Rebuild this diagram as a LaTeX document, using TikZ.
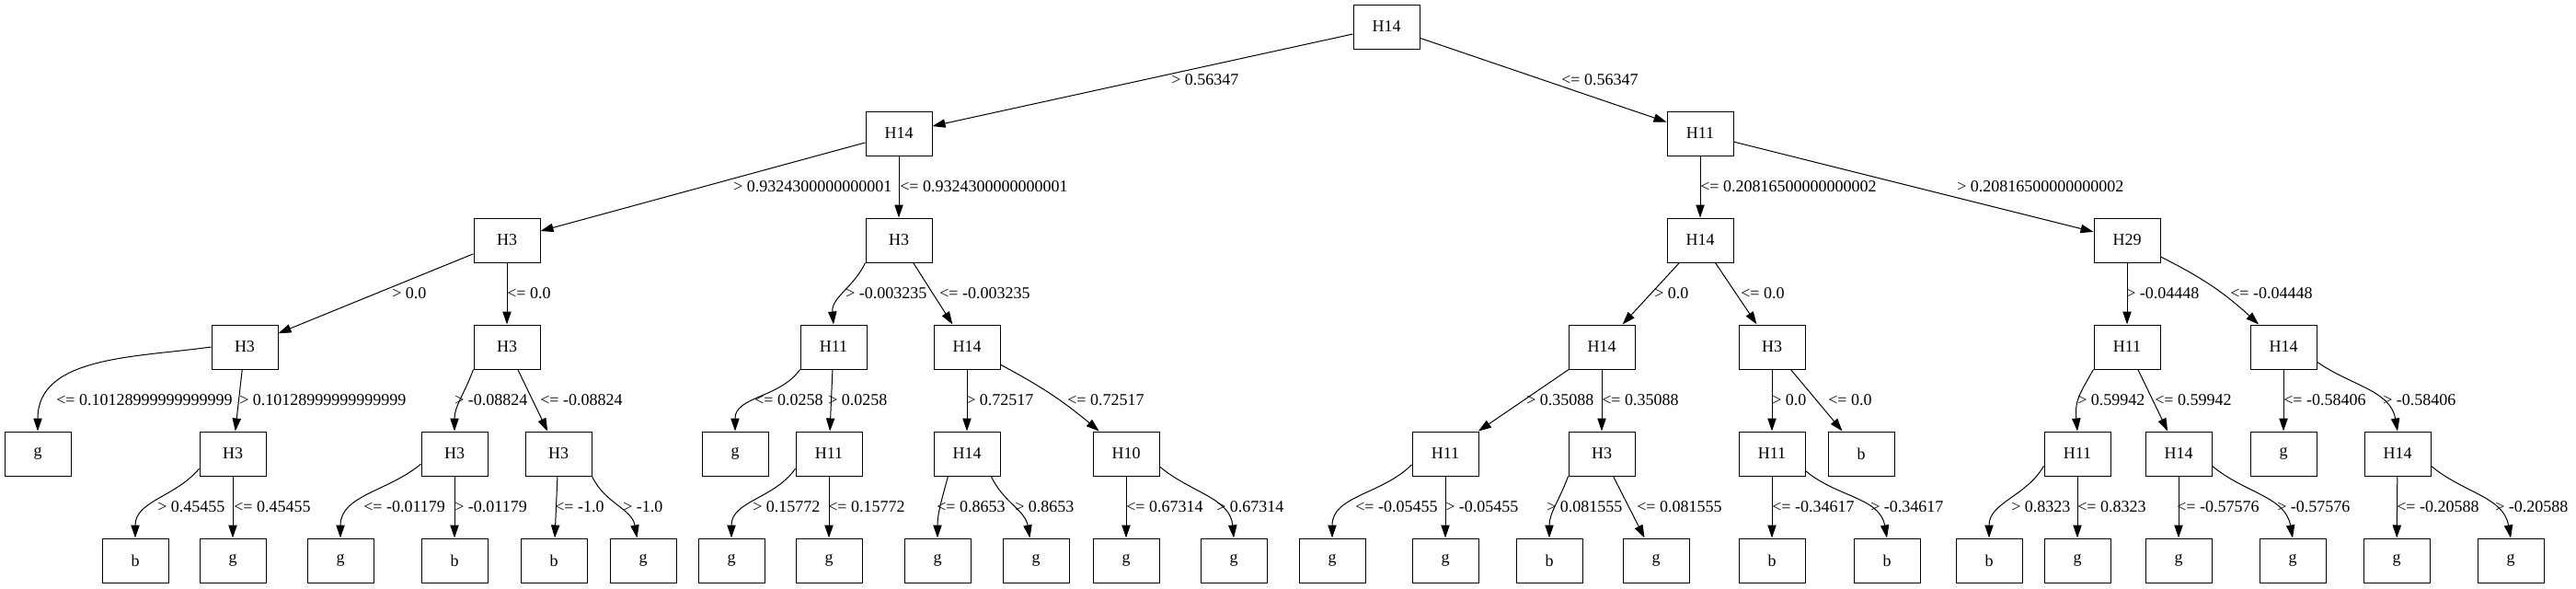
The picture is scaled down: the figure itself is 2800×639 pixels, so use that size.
\documentclass[tikz,border=0pt]{standalone}
\usepackage{fontspec}
\setmainfont{Liberation Serif}
\usetikzlibrary{arrows.meta}

\begin{document}
\begin{tikzpicture}[x=0.75pt, y=0.75pt,
  tnode/.style={draw, line width=0.75pt, minimum width=54pt, minimum height=36pt, inner sep=0pt, font=\fontsize{13.5}{16}\selectfont},
  edge/.style={line width=0.75pt, -{Triangle[length=10.5pt,width=7pt]}},
  cond/.style={anchor=west, inner sep=0pt, font=\fontsize{13.5}{16}\selectfont}]
  \useasboundingbox (0,0) rectangle (2800,-639);
  \node[tnode] (r) at (1507,-29) {H14};
  \node[tnode] (rL) at (977,-145) {H14};
  \node[tnode] (rR) at (1848,-145) {H11};
  \node[tnode] (rLL) at (551,-261) {H3};
  \node[tnode] (rLR) at (977,-261) {H3};
  \node[tnode] (rRL) at (1848,-261) {H14};
  \node[tnode] (rRR) at (2312,-261) {H29};
  \node[tnode] (rLLL) at (266,-377) {H3};
  \node[tnode] (rLLR) at (551,-377) {H3};
  \node[tnode] (rLRL) at (906,-377) {H11};
  \node[tnode] (rLRR) at (1051,-377) {H14};
  \node[tnode] (rRLL) at (1741,-377) {H14};
  \node[tnode] (rRLR) at (1926,-377) {H3};
  \node[tnode] (rRRL) at (2312,-377) {H11};
  \node[tnode] (rRRR) at (2482,-377) {H14};
  \node[tnode] (rLLLL) at (41,-493) {g};
  \node[tnode] (rLLLR) at (253,-493) {H3};
  \node[tnode] (rLLRL) at (494,-493) {H3};
  \node[tnode] (rLLRR) at (607,-493) {H3};
  \node[tnode] (rLRLL) at (799,-493) {g};
  \node[tnode] (rLRLR) at (901,-493) {H11};
  \node[tnode] (rLRRL) at (1051,-493) {H14};
  \node[tnode] (rLRRR) at (1224,-493) {H10};
  \node[tnode] (rRLLL) at (1571,-493) {H11};
  \node[tnode] (rRLLR) at (1741,-493) {H3};
  \node[tnode] (rRLRL) at (1926,-493) {H11};
  \node[tnode] (rRLRR) at (2023,-493) {b};
  \node[tnode] (rRRLL) at (2258,-493) {H11};
  \node[tnode] (rRRLR) at (2368,-493) {H14};
  \node[tnode] (rRRRL) at (2482,-493) {g};
  \node[tnode] (rRRRR) at (2606,-493) {H14};
  \node[tnode] (rLLLRL) at (147,-609) {b};
  \node[tnode] (rLLLRR) at (253,-609) {g};
  \node[tnode] (rLLRLL) at (370,-609) {g};
  \node[tnode] (rLLRLR) at (494,-609) {b};
  \node[tnode] (rLLRRL) at (602,-609) {b};
  \node[tnode] (rLLRRR) at (699,-609) {g};
  \node[tnode] (rLRLRL) at (795,-609) {g};
  \node[tnode] (rLRLRR) at (901,-609) {g};
  \node[tnode] (rLRRLL) at (1019,-609) {g};
  \node[tnode] (rLRRLR) at (1126,-609) {g};
  \node[tnode] (rLRRRL) at (1224,-609) {g};
  \node[tnode] (rLRRRR) at (1341,-609) {g};
  \node[tnode] (rRLLLL) at (1448,-609) {g};
  \node[tnode] (rRLLLR) at (1571,-609) {g};
  \node[tnode] (rRLLRL) at (1684,-609) {b};
  \node[tnode] (rRLLRR) at (1800,-609) {g};
  \node[tnode] (rRLRLL) at (1926,-609) {b};
  \node[tnode] (rRLRLR) at (2051,-609) {b};
  \node[tnode] (rRRLLL) at (2162,-609) {b};
  \node[tnode] (rRRLLR) at (2258,-609) {g};
  \node[tnode] (rRRLRL) at (2368,-609) {g};
  \node[tnode] (rRRLRR) at (2492,-609) {g};
  \node[tnode] (rRRRRL) at (2605,-609) {g};
  \node[tnode] (rRRRRR) at (2729,-609) {g};

  \draw[edge] (r) -- (rL);
  \draw[edge] (r) -- (rR);
  \draw[edge] (rL) -- (rLL);
  \draw[edge] (rL) -- (rLR);
  \draw[edge] (rR) -- (rRL);
  \draw[edge] (rR) -- (rRR);
  \draw[edge] (rLL) -- (rLLL);
  \draw[edge] (rLL) -- (rLLR);
  \draw[edge] (rLR.south west) to[out=-115,in=95] (rLRL.north);
  \draw[edge] (rLR) -- (rLRR);
  \draw[edge] (rRL) -- (rRLL);
  \draw[edge] (rRL) -- (rRLR);
  \draw[edge] (rRR) -- (rRRL);
  \draw[edge] (rRR) to[bend left=8] (rRRR);
  \draw[edge] (rLLL.west) to[out=188,in=90] (rLLLL.north);
  \draw[edge] (rLLL) -- (rLLLR);
  \draw[edge] (rLLR.south west) to[out=-110,in=90] (rLLRL.north);
  \draw[edge] (rLLR) -- (rLLRR);
  \draw[edge] (rLRL.south west) to[out=-125,in=90] (rLRLL.north);
  \draw[edge] (rLRL) -- (rLRLR);
  \draw[edge] (rLRR) -- (rLRRL);
  \draw[edge] (rLRR) to[bend left=6] (rLRRR);
  \draw[edge] (rRLL) -- (rRLLL);
  \draw[edge] (rRLL) -- (rRLLR);
  \draw[edge] (rRLR) -- (rRLRL);
  \draw[edge] (rRLR) -- (rRLRR);
  \draw[edge] (rRRL.south west) to[out=-120,in=95,looseness=1.2] (rRRLL.north);
  \draw[edge] (rRRL) -- (rRRLR);
  \draw[edge] (rRRR) -- (rRRRL);
  \draw[edge] (rRRR.-24) to[out=-35,in=100] (rRRRR.north);
  \draw[edge] (rLLLR.-156) to[out=-130,in=90] (rLLLRL.north);
  \draw[edge] (rLLLR) -- (rLLLRR);
  \draw[edge] (rLLRL.-163) to[out=-140,in=90] (rLLRLL.north);
  \draw[edge] (rLLRL) -- (rLLRLR);
  \draw[edge] (rLLRR) -- (rLLRRL);
  \draw[edge] (rLLRR.south east) to[out=-65,in=100] (rLLRRR.105);
  \draw[edge] (rLRLR.-156) to[out=-125,in=90] (rLRLRL.north);
  \draw[edge] (rLRLR) -- (rLRLRR);
  \draw[edge] (rLRRL.-130) to[out=-105,in=90] (rLRRLL.north);
  \draw[edge] (rLRRL.-43) to[out=-65,in=100] (rLRRLR.105);
  \draw[edge] (rLRRR) -- (rLRRRL);
  \draw[edge] (rLRRR.-21) to[out=-40,in=95] (rLRRRR.north);
  \draw[edge] (rRLLL.-162) to[out=-135,in=90] (rRLLLL.north);
  \draw[edge] (rRLLL) -- (rRLLLR);
  \draw[edge] (rRLLR.south west) to[out=-110,in=90] (rRLLRL.north);
  \draw[edge] (rRLLR) -- (rRLLRR);
  \draw[edge] (rRLRL) -- (rRLRLL);
  \draw[edge] (rRLRL.-27) to[out=-40,in=100] (rRLRLR.north);
  \draw[edge] (rRRLL.-160) to[out=-120,in=90] (rRRLLL.north);
  \draw[edge] (rRRLL) -- (rRRLLR);
  \draw[edge] (rRRLR) -- (rRRLRL);
  \draw[edge] (rRRLR.-20) to[out=-40,in=100] (rRRLRR.north);
  \draw[edge] (rRRRR) -- (rRRRRL);
  \draw[edge] (rRRRR.-20) to[out=-40,in=100] (rRRRRR.north);

  \node[cond] (c-rL) at (1273,-87) {> 0.56347};
  \node[cond] (c-rR) at (1697,-87) {<= 0.56347};
  \node[cond] (c-rLL) at (797,-203) {> 0.9324300000000001};
  \node[cond] (c-rLR) at (978,-203) {<= 0.9324300000000001};
  \node[cond] (c-rRL) at (1848,-203) {<= 0.20816500000000002};
  \node[cond] (c-rRR) at (2127,-203) {> 0.20816500000000002};
  \node[cond] (c-rLLL) at (426,-319) {> 0.0};
  \node[cond] (c-rLLR) at (551,-319) {<= 0.0};
  \node[cond] (c-rLRL) at (919,-319) {> -0.003235};
  \node[cond] (c-rLRR) at (1021,-319) {<= -0.003235};
  \node[cond] (c-rRLL) at (1798,-319) {> 0.0};
  \node[cond] (c-rRLR) at (1892,-319) {<= 0.0};
  \node[cond] (c-rRRL) at (2311,-319) {> -0.04448};
  \node[cond] (c-rRRR) at (2424,-319) {<= -0.04448};
  \node[cond] (c-rLLLL) at (61,-435) {<= 0.10128999999999999};
  \node[cond] (c-rLLLR) at (260,-435) {> 0.10128999999999999};
  \node[cond] (c-rLLRL) at (494,-435) {> -0.08824};
  \node[cond] (c-rLLRR) at (587,-435) {<= -0.08824};
  \node[cond] (c-rLRLL) at (820,-435) {<= 0.0258};
  \node[cond] (c-rLRLR) at (900,-435) {> 0.0258};
  \node[cond] (c-rLRRL) at (1050,-435) {> 0.72517};
  \node[cond] (c-rLRRR) at (1160,-435) {<= 0.72517};
  \node[cond] (c-rRLLL) at (1659,-435) {> 0.35088};
  \node[cond] (c-rRLLR) at (1741,-435) {<= 0.35088};
  \node[cond] (c-rRLRL) at (1926,-435) {> 0.0};
  \node[cond] (c-rRLRR) at (1987,-435) {<= 0.0};
  \node[cond] (c-rRRLL) at (2258,-435) {> 0.59942};
  \node[cond] (c-rRRLR) at (2342,-435) {<= 0.59942};
  \node[cond] (c-rRRRL) at (2482,-435) {<= -0.58406};
  \node[cond] (c-rRRRR) at (2590,-435) {> -0.58406};
  \node[cond] (c-rLLLRL) at (171,-551) {> 0.45455};
  \node[cond] (c-rLLLRR) at (254,-551) {<= 0.45455};
  \node[cond] (c-rLLRLL) at (395,-551) {<= -0.01179};
  \node[cond] (c-rLLRLR) at (494,-551) {> -0.01179};
  \node[cond] (c-rLLRRL) at (603,-551) {<= -1.0};
  \node[cond] (c-rLLRRR) at (677,-551) {> -1.0};
  \node[cond] (c-rLRLRL) at (818,-551) {> 0.15772};
  \node[cond] (c-rLRLRR) at (900,-551) {<= 0.15772};
  \node[cond] (c-rLRRLL) at (1018,-551) {<= 0.8653};
  \node[cond] (c-rLRRLR) at (1103,-551) {> 0.8653};
  \node[cond] (c-rLRRRL) at (1224,-551) {<= 0.67314};
  \node[cond] (c-rLRRRR) at (1322,-551) {> 0.67314};
  \node[cond] (c-rRLLLL) at (1473,-551) {<= -0.05455};
  \node[cond] (c-rRLLLR) at (1571,-551) {> -0.05455};
  \node[cond] (c-rRLLRL) at (1681,-551) {> 0.081555};
  \node[cond] (c-rRLLRR) at (1779,-551) {<= 0.081555};
  \node[cond] (c-rRLRLL) at (1926,-551) {<= -0.34617};
  \node[cond] (c-rRLRLR) at (2033,-551) {> -0.34617};
  \node[cond] (c-rRRLLL) at (2186,-551) {> 0.8323};
  \node[cond] (c-rRRLLR) at (2258,-551) {<= 0.8323};
  \node[cond] (c-rRRLRL) at (2366,-551) {<= -0.57576};
  \node[cond] (c-rRRLRR) at (2475,-551) {> -0.57576};
  \node[cond] (c-rRRRRL) at (2605,-551) {<= -0.20588};
  \node[cond] (c-rRRRRR) at (2712,-551) {> -0.20588};
\end{tikzpicture}
\end{document}
